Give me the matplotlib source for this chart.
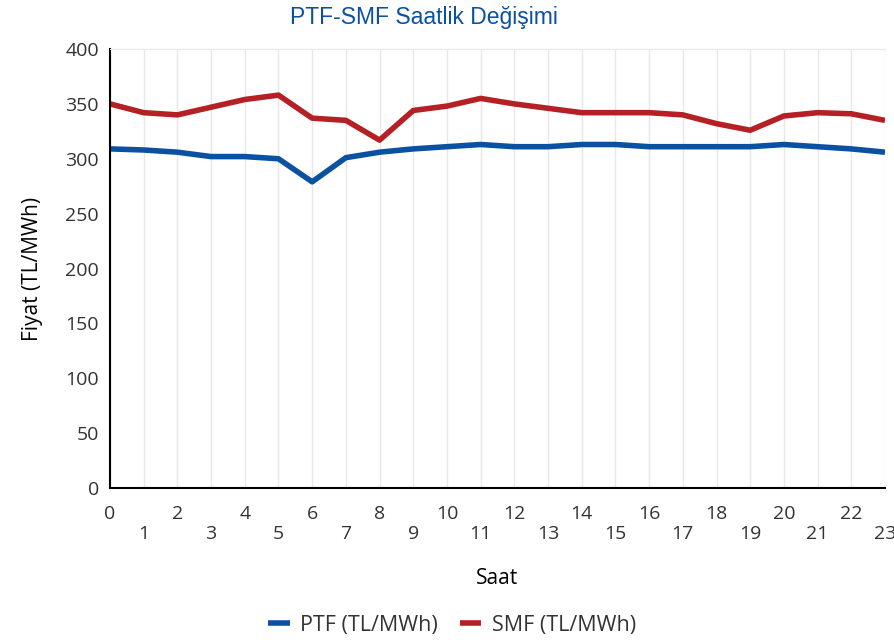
import matplotlib
matplotlib.use("Agg")
import matplotlib.pyplot as plt

plt.rcParams["font.family"] = ["Open Sans", "DejaVu Sans"]

# ── Veri ─────────────────────────────────────────────
saat = list(range(24))
ptf = [309, 308, 306, 302, 302, 300, 279, 301, 306, 309, 311, 313,
       311, 311, 313, 313, 311, 311, 311, 311, 313, 311, 309, 306]
smf = [350, 342, 340, 347, 354, 358, 337, 335, 317, 344, 348, 355,
       350, 346, 342, 342, 342, 340, 332, 326, 339, 342, 341, 335]
y_ticks = [0, 50, 100, 150, 200, 250, 300, 350, 400]

BLUE = "#0a51a1"
RED = "#b52025"
TXT = "#333333"

fig = plt.figure(figsize=(8.95, 6.40), dpi=100)
ax = fig.add_axes([0.1229, 0.2375, 0.8659, 0.6859])

ax.plot(saat, ptf, color=BLUE, lw=4.0, label="PTF (TL/MWh)", solid_capstyle="butt")
ax.plot(saat, smf, color=RED, lw=4.0, label="SMF (TL/MWh)", solid_capstyle="butt")

ax.set_xlim(0, 23)
ax.set_ylim(0, 400)
ax.set_yticks(y_ticks)
ax.set_xticks(saat)
ax.set_xticklabels([str(h) if h % 2 == 0 else "\n" + str(h) for h in saat],
                   linespacing=1.15)
ax.tick_params(axis="both", length=0, labelsize=14, colors=TXT, pad=8)
ax.tick_params(axis="x", pad=12)

ax.grid(axis="x", color="#e8e8e8", lw=1)
ax.set_axisbelow(True)
for s in ["left", "bottom"]:
    ax.spines[s].set_color("black")
    ax.spines[s].set_linewidth(1.5)
ax.spines["top"].set_color("#e8e8e8")
ax.spines["right"].set_visible(False)

ax.set_ylabel("Fiyat (TL/MWh)", fontsize=15, color="black", labelpad=16)
ax.set_xlabel("Saat", fontsize=15, color="black", labelpad=18)
fig.text(0.474, 0.972, "PTF-SMF Saatlik Değişimi", ha="center", va="center",
         fontsize=16.5, color=BLUE, family=["Liberation Sans", "DejaVu Sans"])

fig.legend(loc="center", bbox_to_anchor=(0.505, 0.023), ncol=2, frameon=False,
           fontsize=15.5, handlelength=1.0, handletextpad=0.5, columnspacing=1.0,
           labelcolor=TXT)

fig.savefig("out.png", dpi=100)
